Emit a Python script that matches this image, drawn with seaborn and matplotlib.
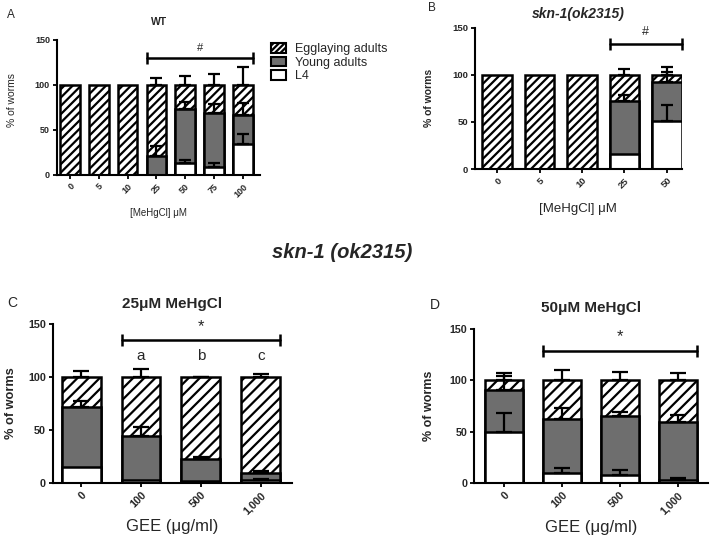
import numpy as np
import pandas as pd
import matplotlib
matplotlib.use("Agg")
import matplotlib.pyplot as plt
import seaborn as sb
from matplotlib.patches import Patch

# Panel A - WT, stage distribution (%) per MeHgCl dose
a_doses = ['0', '5', '10', '25', '50', '75', '100']
a_l4 = [0, 0, 0, 0, 13, 9, 34]
a_young = [0, 0, 0, 21, 60, 60, 33]
a_l4_err = [0, 0, 0, 0, 4, 4, 12]
a_young_err = [0, 0, 0, 11, 8, 10, 13]
a_egg_err = [0, 0, 0, 8, 10, 12, 20]

# Panel B - skn-1(ok2315)
b_doses = ['0', '5', '10', '25', '50']
b_l4 = [0, 0, 0, 16, 51]
b_young = [0, 0, 0, 56, 41]
b_l4_err = [0, 0, 0, 0, 17]
b_young_err = [0, 0, 0, 6, 11]
b_egg_err = [0, 0, 0, 6, 8]

# Panel C - skn-1, 25uM MeHgCl + GEE
c_doses = ['0', '100', '500', '1,000']
c_l4 = [15, 3, 2, 3]
c_young = [57, 41, 21, 6]
c_l4_err = [0, 0, 0, 1]
c_young_err = [5, 9, 1.5, 2]
c_egg_err = [6, 7.5, 0.5, 3]
c_letters = ['', 'a', 'b', 'c']

# Panel D - skn-1, 50uM MeHgCl + GEE
d_doses = ['0', '100', '500', '1,000']
d_l4 = [50, 10, 8, 3]
d_young = [41, 52, 57, 56]
d_l4_err = [18, 5, 5, 2]
d_young_err = [13, 11, 4, 7]
d_egg_err = [7, 10, 8, 7]

GRAY = '#6e6e6e'

sb.set_style("ticks")
plt.rcParams['font.family'] = ['Liberation Sans', 'DejaVu Sans']
plt.rcParams['hatch.linewidth'] = 1.6


def draw_panel(ax, doses, l4, young, l4_err, young_err, egg_err,
               hatch, width, capsize, tick_size):
    df = pd.DataFrame({'dose': doses, 'l4': l4, 'young': young})
    df['young_top'] = df['l4'] + df['young']
    df['total'] = 100
    kw = dict(data=df, x='dose', order=doses, edgecolor='black', linewidth=1.8,
              width=width, saturation=1, ax=ax)
    sb.barplot(y='total', color='white', hatch=hatch, **kw)
    sb.barplot(y='young_top', color=GRAY, **kw)
    sb.barplot(y='l4', color='white', **kw)

    # one-sided (upper) error bars
    x = np.arange(len(doses))
    for tops, errs in [(df['l4'].values, l4_err),
                       (df['young_top'].values, young_err),
                       (df['total'].values, egg_err)]:
        errs = np.asarray(errs, dtype=float)
        m = errs > 0
        ax.errorbar(x[m], tops[m], yerr=[np.zeros(m.sum()), errs[m]], fmt='none',
                    ecolor='black', elinewidth=1.6, capsize=capsize, capthick=1.6,
                    zorder=5, clip_on=False)

    ax.set_ylim(0, 150)
    ax.set_yticks([0, 50, 100, 150])
    sb.despine(ax=ax)
    for s in ['left', 'bottom']:
        ax.spines[s].set_linewidth(1.5)
        ax.spines[s].set_color('black')
    ax.tick_params(axis='both', width=1.3, length=3, color='black',
                   labelsize=tick_size, pad=2)
    for lab in ax.get_yticklabels():
        lab.set_fontweight('bold')
    for lab in ax.get_xticklabels():
        lab.set_fontweight('bold')
        lab.set_rotation(45)
        lab.set_ha('right')
        lab.set_va('top')
        lab.set_rotation_mode('anchor')


def sig_bar(ax, i0, i1, width, y, text, size):
    ax.plot([i0 - width / 2, i1 + width / 2], [y, y], color='black', lw=1.8,
            marker='|', markersize=9, mew=1.8, clip_on=False)
    ax.text((i0 + i1) / 2, y + 6, text, ha='center', va='bottom', fontsize=size)


fig = plt.figure(figsize=(7.11, 5.4), dpi=100)

# A
axA = fig.add_axes([0.080, 0.676, 0.286, 0.25])
draw_panel(axA, a_doses, a_l4, a_young, a_l4_err, a_young_err, a_egg_err,
           '////', 0.68, 4.5, 6.5)
axA.set_xlim(-0.45, 6.6)
axA.set_title('WT', fontsize=7.5, fontweight='bold', pad=11)
axA.set_ylabel('% of worms', fontsize=7.5)
axA.set_xlabel('[MeHgCl] \u03bcM', fontsize=7)
axA.yaxis.set_label_coords(-0.197, 0.555)
axA.xaxis.set_label_coords(0.5, -0.245)
sig_bar(axA, 3, 6, 0.68, 130, '#', 8)

# B
axB = fig.add_axes([0.668, 0.687, 0.291, 0.262])
draw_panel(axB, b_doses, b_l4, b_young, b_l4_err, b_young_err, b_egg_err,
           '////', 0.7, 4.5, 6.8)
axB.set_xlim(-0.52, 4.35)
axB.set_title('skn-1(ok2315)', fontsize=10, fontweight='bold', style='italic', pad=7)
axB.set_ylabel('% of worms', fontsize=7.5, fontweight='bold')
axB.set_xlabel('[MeHgCl] \u03bcM', fontsize=9.5)
axB.yaxis.set_label_coords(-0.2, 0.5)
axB.xaxis.set_label_coords(0.5, -0.24)
sig_bar(axB, 3, 4, 0.7, 133, '#', 9)

# C
axC = fig.add_axes([0.0745, 0.1056, 0.336, 0.294])
draw_panel(axC, c_doses, c_l4, c_young, c_l4_err, c_young_err, c_egg_err,
           '///', 0.65, 6, 7.8)
axC.set_xlim(-0.47, 3.52)
axC.set_title('25\u03bcM MeHgCl', fontsize=11, fontweight='bold', pad=12)
axC.set_ylabel('% of worms', fontsize=9.2, fontweight='bold')
axC.set_xlabel('GEE (\u03bcg/ml)', fontsize=12)
axC.yaxis.set_label_coords(-0.15, 0.5)
axC.xaxis.set_label_coords(0.5, -0.226)
sig_bar(axC, 1, 3, 0.65, 135, '*', 12)
for i, t in enumerate(c_letters):
    axC.text(i, 113, t, ha='center', va='bottom', fontsize=11)

# D
axD = fig.add_axes([0.667, 0.1056, 0.329, 0.285])
draw_panel(axD, d_doses, d_l4, d_young, d_l4_err, d_young_err, d_egg_err,
           '///', 0.66, 6, 7.7)
axD.set_xlim(-0.52, 3.52)
axD.set_title('50\u03bcM MeHgCl', fontsize=11, fontweight='bold', pad=12)
axD.set_ylabel('% of worms', fontsize=9, fontweight='bold')
axD.set_xlabel('GEE (\u03bcg/ml)', fontsize=12)
axD.yaxis.set_label_coords(-0.169, 0.5)
axD.xaxis.set_label_coords(0.5, -0.24)
sig_bar(axD, 1, 3, 0.66, 129, '*', 12)

# legend for panel A
handles = [Patch(facecolor='white', edgecolor='black', hatch='//////', linewidth=1.5),
           Patch(facecolor=GRAY, edgecolor='black', linewidth=1.5),
           Patch(facecolor='white', edgecolor='black', linewidth=1.5)]
fig.legend(handles, ['Egglaying adults', 'Young adults', 'L4'],
           loc='upper left', bbox_to_anchor=(271 / 711, 1 - 43 / 540),
           frameon=False, fontsize=9, labelspacing=0.12, handlelength=1.2,
           handleheight=0.8, handletextpad=0.7, borderaxespad=0, borderpad=0)

# panel letters and centre heading
for txt, x, y, s in [('A', 7, 15, 8.5), ('B', 428, 8, 8.5), ('C', 7, 303, 10), ('D', 430, 305, 10)]:
    fig.text(x / 711, 1 - y / 540, txt, ha='left', va='center', fontsize=s)
fig.text(342 / 711, 1 - 252 / 540, 'skn-1 (ok2315)', ha='center', va='center',
         fontsize=14.5, fontweight='bold', style='italic')

fig.savefig('out.png', dpi=100)
